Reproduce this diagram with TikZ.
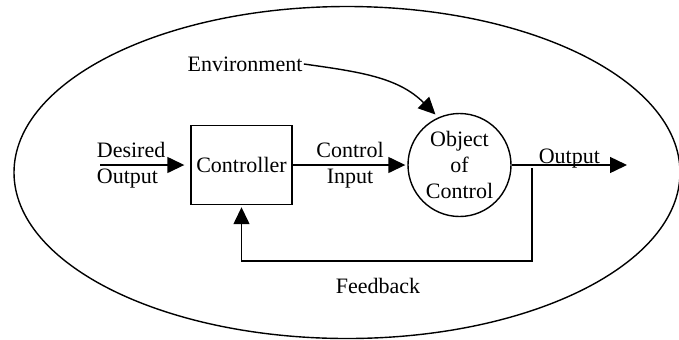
\documentclass[tikz,border=0pt]{standalone}
\usepackage{fontspec}
\setmainfont{Liberation Serif}
\usepackage{tikz}
\usetikzlibrary{arrows.meta,shapes}
\tikzset{
arr/.style={-{Triangle[length=8.5pt,width=8pt]}, line width=0.7pt},
blockbox/.style={draw, line width=0.7pt, rectangle, minimum width=50.5pt, minimum height=39.5pt, inner sep=0pt},
plantcirc/.style={draw, line width=0.7pt, circle, minimum size=51.5pt, inner sep=0pt, align=center},
}
\begin{document}
\begin{tikzpicture}[x=0.5pt, y=-0.5pt, font=\fontsize{11}{12.8}\selectfont]

%% Definitions
\pgfmathsetmacro{\yM}{165}
\useasboundingbox (0,0) rectangle (679,339);

%% system boundary
\draw[line width=0.7pt] (347,172.5) ellipse (166.5pt and 83pt);

%% blocks
\node[blockbox] (ctrl) at (241.5,\yM) {Controller};
\node[plantcirc] (obj) at (459.5,\yM) {Object\\of\\Control};
\node[inner sep=0.5pt] (env) at (245,64) {Environment};
\node[anchor=west, align=left, inner sep=0pt] (des) at (96.5,\yM) {Desired\\Output};

\coordinate (din) at (100,\yM);
\coordinate (dout) at (627,\yM);
\coordinate (fbtop) at (532,\yM+3);
\coordinate (fbbot) at (532,261);

%% signals
\draw[arr, shorten >=3pt] (din) -- (ctrl.west);
\draw[arr, shorten >=1pt] (ctrl.east) -- (obj.west)
  node[midway, align=center] {Control\\Input};
\draw[arr] (obj.east) -- (dout)
  node[midway, anchor=base, yshift=1pt] {Output};
\draw[arr, shorten >=2pt] (env.east) to[out=-8, in=135] (obj.114);

%% feedback loop
\draw[arr, shorten >=1pt] (fbtop) -- (fbbot) -| (ctrl.south)
  node[pos=0.265, below=5pt] {Feedback};

\end{tikzpicture}
\end{document}
